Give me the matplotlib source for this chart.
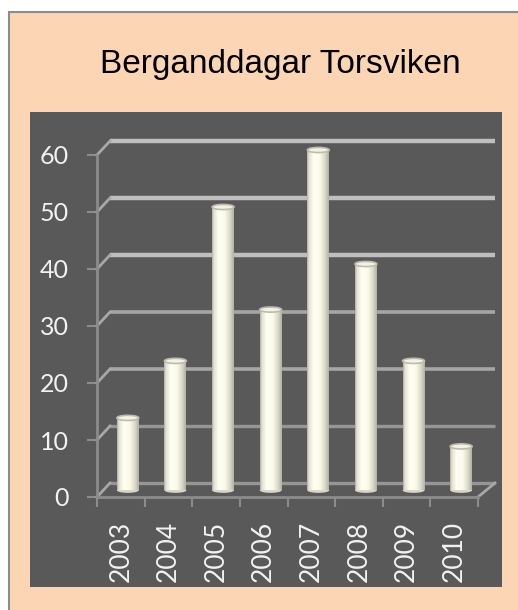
import matplotlib

matplotlib.use("Agg")
import matplotlib.pyplot as plt
import numpy as np
from matplotlib.patches import Rectangle, Ellipse
from matplotlib.lines import Line2D
from matplotlib.transforms import ScaledTranslation, IdentityTransform

# data
years = ["2003", "2004", "2005", "2006", "2007", "2008", "2009", "2010"]
days = [13, 23, 50, 32, 60, 40, 23, 8]
yticks = [0, 10, 20, 30, 40, 50, 60]
title = "Berganddagar Torsviken"

W, H = 518, 610
PEACH = "#FCD5B5"
DARK = "#595959"

fig = plt.figure(figsize=(W / 100, H / 100), dpi=100, facecolor="white")


def fx(px):
    return px / W


def fy(py):
    return 1 - py / H


# outer chart area and dark plot area
fig.patches.append(Rectangle((fx(9), -0.1), 1.2, fy(12) + 0.1, transform=fig.transFigure,
                             fc=PEACH, ec="#8C8C8C", lw=1.5, zorder=0))
fig.patches.append(Rectangle((fx(30), fy(587)), fx(472), 475 / H, transform=fig.transFigure,
                             fc=DARK, ec="none", zorder=1))

fig.text(fx(280), fy(65), title, ha="center", va="center", fontsize=24,
         family="Liberation Sans", color="black")

# axes = front plane of the pseudo-3D chart
ax = fig.add_axes([fx(97), fy(497), (478 - 97) / W, (497 - 155) / H])
ax.set_zorder(3)
ax.set_facecolor("none")
ax.set_xlim(-0.5, len(years) - 0.5)
ax.set_ylim(0, 60)

back = ax.transData + ScaledTranslation(13 / 100, 14 / 100, fig.dpi_scale_trans)
mid = ax.transData + ScaledTranslation(7 / 100, 5 / 100, fig.dpi_scale_trans)

# back wall gridlines (lighter and thicker towards the top)
for v in yticks:
    if v >= 40:
        col, lw = "#BFBFBF", 3.2
    elif v >= 20:
        col, lw = "#A6A6A6", 2.6
    else:
        col, lw = "#969696", 2.4
    ax.add_line(Line2D([-0.5, len(years) - 0.42], [v, v], transform=back, color=col,
                       lw=lw, solid_capstyle="butt", clip_on=False, zorder=2))

fig.canvas.draw()
# small diagonal connectors from front axis to back wall
for v in yticks:
    p = ax.transData.transform((-0.5, v))
    ax.add_line(Line2D([p[0], p[0] + 13], [p[1], p[1] + 14], transform=IdentityTransform(),
                       color="#A8A8A8", lw=2, clip_on=False, zorder=2))
p = ax.transData.transform((len(years) - 0.5, 0))
ax.add_line(Line2D([p[0], p[0] + 17], [p[1], p[1] + 14], transform=IdentityTransform(),
                   color="#A8A8A8", lw=2, clip_on=False, zorder=2))

# cylinder bars
stops = [0.0, 0.08, 0.3, 0.6, 0.85, 1.0]
cols = np.array([[176, 176, 160], [226, 225, 210], [255, 255, 242],
                 [251, 249, 234], [214, 212, 196], [178, 176, 162]]) / 255
t = np.linspace(0, 1, 60)
grad = np.stack([np.interp(t, stops, cols[:, k]) for k in range(3)], axis=-1)[None, :, :]
bw = 0.46
for i, v in enumerate(days):
    ax.add_patch(Ellipse((i, 0.3), bw, 0.9, transform=mid, fc="#D8D6C8", ec="none",
                         clip_on=False, zorder=3))
    im = ax.imshow(grad, extent=[i - bw / 2, i + bw / 2, 0.3, v], aspect="auto",
                   transform=mid, zorder=4, interpolation="bilinear")
    im.set_clip_on(False)
    ax.add_patch(Ellipse((i, v), bw, 0.9, transform=mid, fc="#F4F2E4", ec="#BDBBAD",
                         lw=1.2, clip_on=False, zorder=5))

ax.set_xlim(-0.5, len(years) - 0.5)
ax.set_ylim(0, 60)

# front axes
for s in ["top", "right"]:
    ax.spines[s].set_visible(False)
for s in ["left", "bottom"]:
    ax.spines[s].set_color("#8C8C8C")
    ax.spines[s].set_linewidth(2)
    ax.spines[s].set_zorder(6)

ax.set_yticks(yticks)
ax.tick_params(axis="y", length=7, width=1.5, color="#8C8C8C", pad=13.5,
               labelsize=18, labelcolor="#F2F2F2")
ax.set_xticks(range(len(years)))
ax.set_xticklabels(years, rotation=90)
ax.set_xticks(np.arange(-0.5, len(years)), minor=True)
ax.tick_params(axis="x", which="major", length=0, pad=17, labelsize=19, labelcolor="#F2F2F2")
ax.tick_params(axis="x", which="minor", length=7, width=1.5, color="#8C8C8C")
for lab in ax.get_xticklabels() + ax.get_yticklabels():
    lab.set_family("Lato")

fig.savefig("out.png", dpi=100, facecolor=fig.get_facecolor())
